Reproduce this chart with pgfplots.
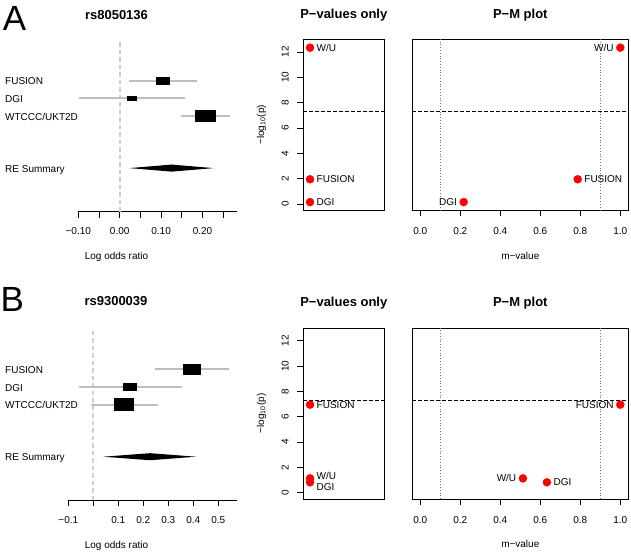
\documentclass[border=0pt]{standalone}
\usepackage{pgfplots}
\pgfplotsset{compat=1.18}
\usepackage{fontspec}
\setmainfont{Liberation Sans}
\definecolor{cigray}{HTML}{BEBEBE}
\definecolor{zgray}{HTML}{CFCFCF}
\definecolor{dotgray}{HTML}{707070}
\newcommand{\nf}{\fontsize{10bp}{12bp}\selectfont}
\newcommand{\tf}{\bfseries\fontsize{13bp}{15bp}\selectfont}
\pgfplotsset{
  base/.style={scale only axis, clip=false,
    axis line style={line width=0.8bp, black},
    tick style={line width=0.8bp, black},
    tick align=outside, major tick length=6bp,
    ticklabel style={font=\nf}},
  forest/.style={base, axis x line*=bottom, axis y line=none,
    ymin=-8.42, ymax=1.2, height=169.8bp,
    xticklabel style={inner xsep=0pt, inner ysep=10bp}},
  pval/.style={base, width=81bp, height=171bp, xmin=0, xmax=1, ymin=-0.5, ymax=13,
    xtick=\empty, ytick={0,2,4,6,8,10,12}, yticklabels={0,2,4,6,8,10,12}, ytick pos=left,
    yticklabel style={rotate=90, anchor=south, inner xsep=0pt, inner ysep=8.4bp}},
  pm/.style={base, width=216bp, height=171bp, xmin=-0.04, xmax=1.04, ymin=-0.5, ymax=13,
    ytick=\empty, xtick={0,0.2,0.4,0.6,0.8,1}, xticklabels={0.0,0.2,0.4,0.6,0.8,1.0},
    xtick pos=bottom, xticklabel style={inner xsep=0pt, inner ysep=11bp}},
  ci/.style={cigray, line width=2bp},
  box/.style={fill=black, draw=none},
  zero/.style={zgray, line width=2bp, dash pattern=on 4.5bp off 3bp},
  gw/.style={black, line width=0.7bp, dash pattern=on 3.5bp off 2.5bp},
  mline/.style={dotgray, line width=0.8bp, dash pattern=on 0.8bp off 2bp},
  pt/.style={only marks, mark=*, mark size=4bp, red, mark options={fill=red, draw=red}},
}
\tikzset{lab/.style={font=\nf, inner sep=0pt}}
\begin{document}
\begin{tikzpicture}
\useasboundingbox (0,0) rectangle (631bp,-552bp);
% ================= Panel A =================
\node[anchor=base west, inner sep=0pt, font=\fontsize{35bp}{40bp}\selectfont] at (2.7bp,-30bp) {A};
\node[anchor=base, inner sep=0pt, font=\tf] at (116.5bp,-19bp) {rs8050136};
\node[anchor=base, inner sep=0pt, font=\tf] at (343.8bp,-18.7bp) {P−values only};
\node[anchor=base, inner sep=0pt, font=\tf] at (520.3bp,-18.7bp) {P−M plot};
\node[lab, anchor=base west] at (5bp,-84.9bp) {FUSION};
\node[lab, anchor=base west] at (5bp,-102.6bp) {DGI};
\node[lab, anchor=base west] at (5bp,-120.2bp) {WTCCC/UKT2D};
\node[lab, anchor=base west] at (5bp,-172.3bp) {RE Summary};
\node[lab, anchor=base] at (116.5bp,-259bp) {Log odds ratio};
\node[lab, anchor=base, rotate=90] at (264bp,-124.8bp) {−log\textsubscript{10}(p)};
\node[lab, anchor=base] at (520.3bp,-259bp) {m−value};

\begin{axis}[forest, at={(78.3bp,-211.7bp)}, anchor=south west, width=159bp,
  xmin=-0.1, xmax=0.284, xtick={-0.1,-0.05,0,0.05,0.1,0.15,0.2,0.25},
  xticklabels={−0.10,,0.00,,0.10,,0.20,}]
\addplot[zero] coordinates {(0,-8.42) (0,1.2)};
\addplot[ci] coordinates {(0.0217,-1) (0.187,-1)};
\addplot[ci] coordinates {(-0.098,-2) (0.157,-2)};
\addplot[ci] coordinates {(0.149,-3) (0.266,-3)};
\addplot[box] coordinates {(0.0877,-1.235) (0.1223,-1.235) (0.1223,-0.765) (0.0877,-0.765)};
\addplot[box] coordinates {(0.0179,-2.15) (0.0421,-2.15) (0.0421,-1.85) (0.0179,-1.85)};
\addplot[box] coordinates {(0.183,-3.34) (0.232,-3.34) (0.232,-2.66) (0.183,-2.66)};
\addplot[box] coordinates {(0.0234,-5.95) (0.125,-5.75) (0.227,-5.95) (0.125,-6.15)};
\end{axis}

\begin{axis}[pval, at={(303.3bp,-210.3bp)}, anchor=south west]
\addplot[gw] coordinates {(0,7.3) (1,7.3)};
\addplot[pt] coordinates {(0.083,12.34) (0.083,1.95) (0.083,0.15)};
\node[lab, anchor=base west, xshift=6.5bp, yshift=-3.6bp] at (axis cs:0.083,12.34) {W/U};
\node[lab, anchor=base west, xshift=6.5bp, yshift=-3.6bp] at (axis cs:0.083,1.95) {FUSION};
\node[lab, anchor=base west, xshift=6.5bp, yshift=-3.6bp] at (axis cs:0.083,0.15) {DGI};
\end{axis}

\begin{axis}[pm, at={(412.3bp,-210.3bp)}, anchor=south west]
\addplot[mline] coordinates {(0.1,-0.5) (0.1,13)};
\addplot[mline] coordinates {(0.9,-0.5) (0.9,13)};
\addplot[gw] coordinates {(-0.04,7.3) (1.04,7.3)};
\addplot[pt] coordinates {(1.0,12.34) (0.787,1.95) (0.217,0.15)};
\node[lab, anchor=base east, xshift=-6.5bp, yshift=-3.6bp] at (axis cs:1.0,12.34) {W/U};
\node[lab, anchor=base west, xshift=6.5bp, yshift=-3.6bp] at (axis cs:0.787,1.95) {FUSION};
\node[lab, anchor=base east, xshift=-6.5bp, yshift=-3.6bp] at (axis cs:0.217,0.15) {DGI};
\end{axis}

% ================= Panel B =================
\node[anchor=base west, inner sep=0pt, font=\fontsize{35bp}{40bp}\selectfont] at (0.5bp,-311.7bp) {B};
\node[anchor=base, inner sep=0pt, font=\tf] at (116bp,-305.3bp) {rs9300039};
\node[anchor=base, inner sep=0pt, font=\tf] at (343.8bp,-306.5bp) {P−values only};
\node[anchor=base, inner sep=0pt, font=\tf] at (520.3bp,-306.5bp) {P−M plot};
\node[lab, anchor=base west] at (5bp,-373.3bp) {FUSION};
\node[lab, anchor=base west] at (5bp,-391bp) {DGI};
\node[lab, anchor=base west] at (5bp,-408.6bp) {WTCCC/UKT2D};
\node[lab, anchor=base west] at (5bp,-460.7bp) {RE Summary};
\node[lab, anchor=base] at (116.5bp,-548bp) {Log odds ratio};
\node[lab, anchor=base, rotate=90] at (264bp,-413.5bp) {−log\textsubscript{10}(p)};
\node[lab, anchor=base] at (520.3bp,-547.5bp) {m−value};

\begin{axis}[forest, at={(68.3bp,-500.3bp)}, anchor=south west, width=169bp,
  xmin=-0.1, xmax=0.576, xtick={-0.1,0,0.1,0.2,0.3,0.4,0.5},
  xticklabels={−0.1,,0.1,0.2,0.3,0.4,0.5}]
\addplot[zero] coordinates {(0,-8.42) (0,1.2)};
\addplot[ci] coordinates {(0.247,-1) (0.541,-1)};
\addplot[ci] coordinates {(-0.058,-2) (0.354,-2)};
\addplot[ci] coordinates {(-0.01,-3) (0.258,-3)};
\addplot[box] coordinates {(0.3574,-1.30) (0.4306,-1.30) (0.4306,-0.70) (0.3574,-0.70)};
\addplot[box] coordinates {(0.120,-2.245) (0.176,-2.245) (0.176,-1.755) (0.120,-1.755)};
\addplot[box] coordinates {(0.083,-3.35) (0.163,-3.35) (0.163,-2.65) (0.083,-2.65)};
\addplot[box] coordinates {(0.040,-5.95) (0.227,-5.75) (0.411,-5.95) (0.227,-6.15)};
\end{axis}

\begin{axis}[pval, at={(303.3bp,-499bp)}, anchor=south west]
\addplot[gw] coordinates {(0,7.3) (1,7.3)};
\addplot[pt] coordinates {(0.083,6.95) (0.083,1.13) (0.083,0.82)};
\node[lab, anchor=base west, xshift=6.5bp, yshift=-3.6bp] at (axis cs:0.083,6.95) {FUSION};
\node[lab, anchor=base west, xshift=6.5bp, yshift=-1.4bp] at (axis cs:0.083,1.13) {W/U};
\node[lab, anchor=base west, xshift=6.5bp, yshift=-8.5bp] at (axis cs:0.083,0.82) {DGI};
\end{axis}

\begin{axis}[pm, at={(412.3bp,-499bp)}, anchor=south west]
\addplot[mline] coordinates {(0.1,-0.5) (0.1,13)};
\addplot[mline] coordinates {(0.9,-0.5) (0.9,13)};
\addplot[gw] coordinates {(-0.04,7.3) (1.04,7.3)};
\addplot[pt] coordinates {(1.0,6.95) (0.513,1.13) (0.633,0.82)};
\node[lab, anchor=base east, xshift=-6.5bp, yshift=-3.6bp] at (axis cs:1.0,6.95) {FUSION};
\node[lab, anchor=base east, xshift=-6.5bp, yshift=-3.6bp] at (axis cs:0.513,1.13) {W/U};
\node[lab, anchor=base west, xshift=6.5bp, yshift=-3.6bp] at (axis cs:0.633,0.82) {DGI};
\end{axis}
\end{tikzpicture}
\end{document}
